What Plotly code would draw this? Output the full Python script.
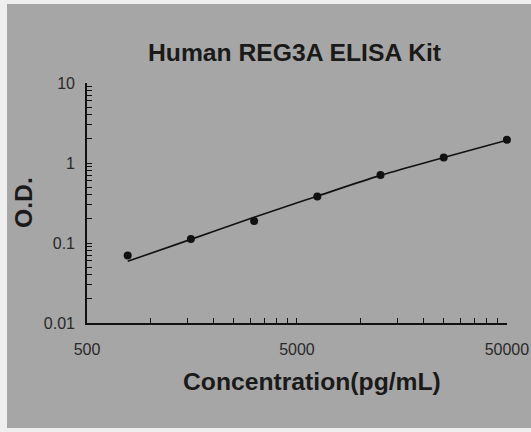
import math
import plotly.graph_objects as go

# Data
concentration = [781.25, 1562.5, 3125, 6250, 12500, 25000, 50000]
od_values = [0.070, 0.112, 0.188, 0.382, 0.708, 1.175, 1.95]
fit_values = [0.059, 0.111, 0.21, 0.385, 0.70, 1.17, 1.93]

x_tickvals = [500, 1000, 1500, 2000, 2500, 3000, 3500, 4000, 4500, 5000,
              10000, 15000, 20000, 25000, 30000, 35000, 40000, 45000, 50000]
x_ticktext = ["500", "", "", "", "", "", "", "", "", "5000",
              "", "", "", "", "", "", "", "", "50000"]
y_tickvals = [0.01, 0.02, 0.03, 0.04, 0.05, 0.06, 0.07, 0.08, 0.09,
              0.1, 0.2, 0.3, 0.4, 0.5, 0.6, 0.7, 0.8, 0.9,
              1, 2, 3, 4, 5, 6, 7, 8, 9, 10]
y_ticktext = ["0.01", "", "", "", "", "", "", "", "",
              "0.1", "", "", "", "", "", "", "", "",
              "1", "", "", "", "", "", "", "", "", "10"]

title_text = "Human REG3A ELISA Kit"
x_title = "Concentration(pg/mL)"
y_title = "O.D."

W, H = 531, 432
L, R, T, B = 87, 24, 83, 109

def px_x(p):
    return (p - L) / (W - L - R)

def px_y(p):
    return (H - B - p) / (H - T - B)

fig = go.Figure()
fig.add_trace(go.Scatter(x=concentration, y=fit_values, mode="lines",
                         line=dict(color="#111111", width=1.6, shape="spline"),
                         cliponaxis=False, showlegend=False, hoverinfo="skip"))
fig.add_trace(go.Scatter(x=concentration, y=od_values, mode="markers",
                         marker=dict(color="#111111", size=8),
                         cliponaxis=False, showlegend=False))

font_main = "Liberation Sans, Arial, sans-serif"

fig.update_layout(
    width=W, height=H, autosize=False,
    margin=dict(l=L, r=R, t=T, b=B, pad=0, autoexpand=False),
    paper_bgcolor="#efefef",
    plot_bgcolor="rgba(0,0,0,0)",
    showlegend=False,
    shapes=[dict(type="rect", xref="paper", yref="paper",
                 x0=px_x(7), x1=px_x(531), y0=px_y(428), y1=px_y(4),
                 fillcolor="#a6a6a6", line=dict(width=0), layer="below")],
    annotations=[
        dict(text="<b>%s</b>" % title_text, xref="paper", yref="paper",
             x=px_x(294), y=px_y(52.5), xanchor="center", yanchor="middle",
             showarrow=False, font=dict(family=font_main, size=24.7, color="#1a1a1a")),
        dict(text="<b>%s</b>" % x_title, xref="paper", yref="paper",
             x=px_x(311.5), y=px_y(381.5), xanchor="center", yanchor="middle",
             showarrow=False, font=dict(family=font_main, size=24.7, color="#1a1a1a")),
        dict(text="<b>%s</b>" % y_title, xref="paper", yref="paper",
             x=px_x(23.5), y=px_y(202.5), xanchor="center", yanchor="middle",
             textangle=-90,
             showarrow=False, font=dict(family=font_main, size=24.7, color="#1a1a1a")),
    ],
)

fig.update_xaxes(type="log", range=[math.log10(500), math.log10(50000) + 0.0004],
                 automargin=False,
                 tickmode="array", tickvals=x_tickvals, ticktext=x_ticktext,
                 ticks="inside", ticklen=5, tickwidth=1.3, tickcolor="#111111",
                 showline=True, linecolor="#111111", linewidth=1.6,
                 showgrid=False, zeroline=False, ticklabelstandoff=11,
                 tickfont=dict(family=font_main, size=16, color="#2a2a2a"))
fig.update_yaxes(type="log", range=[-2, 1], automargin=False,
                 tickmode="array", tickvals=y_tickvals, ticktext=y_ticktext,
                 ticks="inside", ticklen=5, tickwidth=1.3, tickcolor="#111111",
                 showline=True, linecolor="#111111", linewidth=1.6,
                 showgrid=False, zeroline=False, ticklabelstandoff=7,
                 tickfont=dict(family=font_main, size=16, color="#2a2a2a"))

fig.write_html("out.html", config={"displayModeBar": False},
               post_script="document.body.style.margin='0';document.body.style.overflow='hidden';")
